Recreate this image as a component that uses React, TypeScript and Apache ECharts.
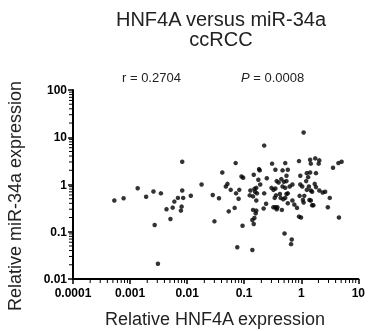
import React, { useEffect, useRef } from "react";
import * as echarts from "echarts";

const titleLines = ["HNF4A versus miR-34a", "ccRCC"];
const statR = "r = 0.2704";
const statP = "0.0008";
const xTitle = "Relative HNF4A expression";
const yTitle = "Relative miR-34a expression";

const xTickLabels = ["0.0001", "0.001", "0.01", "0.1", "1", "10"];
const yTickLabels = ["0.01", "0.1", "1", "10", "100"];

const hnf4aExpression = [
  0.00053, 0.00077, 0.00136, 0.00191, 0.00257, 0.00347, 0.0027, 0.00308, 0.00435, 0.0051,
  0.00558, 0.00597, 0.0069, 0.0082, 0.0082, 0.008, 0.00778, 0.00853, 0.0116, 0.0179,
  1.1, 0.224, 0.0708, 0.0413, 0.0281, 0.0361, 0.0301, 0.0477, 0.0509, 0.058,
  0.072, 0.082, 0.0798, 0.068, 0.0536, 0.0897, 0.096, 0.0935, 0.0757, 0.139,
  0.1285, 0.125, 0.143, 0.151, 0.155, 0.147, 0.182, 0.187, 0.177, 0.191,
  0.163, 0.1675, 0.224, 0.249, 0.242, 0.219, 0.163, 0.163, 0.143, 0.159,
  0.151, 0.139, 0.147, 0.308, 0.352, 0.301, 0.325, 0.352, 0.371, 0.401,
  0.361, 0.342, 0.325, 0.352, 0.381, 0.371, 0.457, 0.524, 0.47, 0.581,
  0.551, 0.447, 0.496, 0.551, 0.47, 0.524, 0.628, 0.7, 0.423, 0.435,
  0.483, 0.524, 0.581, 0.551, 0.581, 0.7, 0.757, 0.843, 0.509, 0.681,
  0.663, 0.912, 0.962, 0.962, 1.04, 0.935, 1.13, 0.912, 0.99, 1.1,
  1.25, 1.36, 1.25, 1.32, 1.22, 1.43, 1.47, 1.76, 2.07, 2.02,
  1.43, 1.81, 1.47, 1.55, 1.39, 1.47, 1.55, 1.63, 2.07, 2.37,
  2.62, 3.16, 2.92, 3.6, 4.47, 5.09, 4.57, 1.72, 1.81, 1.07,
];

const mir34aExpression = [
  0.46, 0.51, 0.83, 0.55, 0.71, 0.65, 0.139, 0.021, 0.3, 0.186,
  0.324, 0.435, 0.52, 3.04, 0.745, 0.34, 0.28, 0.52, 0.58, 1.0,
  12.6, 6.66, 2.84, 1.8, 0.6, 0.51, 0.166, 0.91, 1.03, 0.77,
  0.65, 0.77, 0.5, 0.32, 0.27, 1.48, 1.39, 0.134, 0.047, 0.041,
  0.745, 0.59, 0.56, 0.81, 0.7, 1.61, 2.12, 1.99, 1.26, 1.0,
  0.85, 0.65, 0.65, 1.36, 0.39, 0.31, 0.457, 0.28, 0.29, 0.245,
  0.195, 0.177, 0.146, 2.76, 2.05, 0.85, 0.77, 0.82, 1.18, 1.1,
  0.59, 0.52, 0.33, 0.33, 0.33, 0.298, 0.29, 2.84, 1.99, 2.05,
  1.53, 1.3, 1.14, 1.18, 0.91, 0.85, 0.91, 1.0, 0.63, 0.52,
  0.487, 0.52, 0.4, 0.63, 0.65, 0.457, 0.375, 0.32, 0.092, 0.0686,
  0.0547, 3.13, 1.53, 1.0, 0.91, 0.575, 0.575, 0.209, 0.2, 0.414,
  0.77, 0.91, 1.74, 1.43, 1.18, 3.35, 2.76, 3.57, 3.24, 2.76,
  1.8, 1.74, 0.745, 0.7, 0.47, 0.457, 0.363, 0.363, 0.745, 0.676,
  0.7, 0.52, 0.33, 2.27, 2.84, 3.04, 0.2, 1.03, 0.88, 0.47,
];

const xMin = 0.0001;
const xMax = 10;
const yMin = 0.01;
const yMax = 100;
const minorMultipliers = [2, 3, 4, 5, 6, 7, 8, 9];

const FONT = "'Liberation Sans', Arial, sans-serif";

export default function App() {
  const ref = useRef<HTMLDivElement>(null);

  useEffect(() => {
    if (!ref.current) return;
    const chart = echarts.init(ref.current, undefined, { renderer: "svg" });

    const points = hnf4aExpression.map((x, i) => [x, mir34aExpression[i]]);

    const xMinor: number[][] = [];
    for (let d = -4; d < 1; d++) {
      for (const m of minorMultipliers) xMinor.push([m * Math.pow(10, d), yMin]);
    }
    const yMinor: number[][] = [];
    for (let d = -2; d < 2; d++) {
      for (const m of minorMultipliers) yMinor.push([xMin, m * Math.pow(10, d)]);
    }

    const labelFor = (labels: string[], min: number) => (v: number) => {
      const idx = Math.round(Math.log10(v) - Math.log10(min));
      return labels[idx] ?? "";
    };

    chart.setOption({
      animation: false,
      grid: { left: 73, right: 5, top: 90, bottom: 52, containLabel: false },
      xAxis: {
        type: "log",
        logBase: 10,
        min: xMin,
        max: xMax,
        splitNumber: 5,
        axisLine: { show: true, onZero: false, lineStyle: { color: "#000", width: 2 } },
        axisTick: { show: true, length: 5, lineStyle: { color: "#000", width: 1.5 } },
        axisLabel: {
          margin: 8,
          fontFamily: FONT,
          fontSize: 12,
          fontWeight: "bold",
          color: "#000",
          formatter: labelFor(xTickLabels, xMin),
        },
        splitLine: { show: false },
      },
      yAxis: {
        type: "log",
        logBase: 10,
        min: yMin,
        max: yMax,
        splitNumber: 4,
        axisLine: { show: true, onZero: false, lineStyle: { color: "#000", width: 2 } },
        axisTick: { show: true, length: 5, lineStyle: { color: "#000", width: 1.5 } },
        axisLabel: {
          margin: 6,
          fontFamily: FONT,
          fontSize: 12,
          fontWeight: "bold",
          color: "#000",
          formatter: labelFor(yTickLabels, yMin),
        },
        splitLine: { show: false },
      },
      graphic: [
        {
          type: "text",
          x: 221,
          y: 29,
          style: {
            text: titleLines.join("\n"),
            font: `20px ${FONT}`,
            lineHeight: 20,
            fill: "#222",
            textAlign: "center",
            textVerticalAlign: "middle",
          },
        },
        {
          type: "text",
          x: 122,
          y: 77,
          style: {
            text: statR,
            font: `13px ${FONT}`,
            fill: "#222",
            textAlign: "left",
            textVerticalAlign: "middle",
          },
        },
        {
          type: "text",
          x: 241,
          y: 77,
          style: {
            text: `{i|P} = ${statP}`,
            font: `13px ${FONT}`,
            fill: "#222",
            textAlign: "left",
            textVerticalAlign: "middle",
            rich: {
              i: { fontStyle: "italic", fontSize: 13, fontFamily: FONT, fill: "#222" },
            },
          },
        },
        {
          type: "text",
          x: 215,
          y: 319,
          style: {
            text: xTitle,
            font: `18px ${FONT}`,
            fill: "#222",
            textAlign: "center",
            textVerticalAlign: "middle",
          },
        },
        {
          type: "text",
          x: 15,
          y: 196,
          rotation: Math.PI / 2,
          style: {
            text: yTitle,
            font: `18px ${FONT}`,
            fill: "#222",
            textAlign: "center",
            textVerticalAlign: "middle",
          },
        },
      ],
      series: [
        {
          type: "custom",
          clip: false,
          silent: true,
          data: xMinor,
          renderItem: (_params: any, api: any) => {
            const p = api.coord([api.value(0), api.value(1)]);
            return {
              type: "line",
              shape: { x1: p[0], y1: p[1], x2: p[0], y2: p[1] + 4 },
              style: { stroke: "#000", lineWidth: 1 },
            };
          },
        },
        {
          type: "custom",
          clip: false,
          silent: true,
          data: yMinor,
          renderItem: (_params: any, api: any) => {
            const p = api.coord([api.value(0), api.value(1)]);
            return {
              type: "line",
              shape: { x1: p[0], y1: p[1], x2: p[0] - 4, y2: p[1] },
              style: { stroke: "#000", lineWidth: 1 },
            };
          },
        },
        {
          type: "scatter",
          data: points,
          symbol: "circle",
          symbolSize: 4.5,
          itemStyle: { color: "#000" },
        },
      ],
    });

    return () => chart.dispose();
  }, []);

  return (
    <div
      ref={ref}
      style={{ position: "fixed", left: 0, top: 0, width: 368, height: 331 }}
    />
  );
}
